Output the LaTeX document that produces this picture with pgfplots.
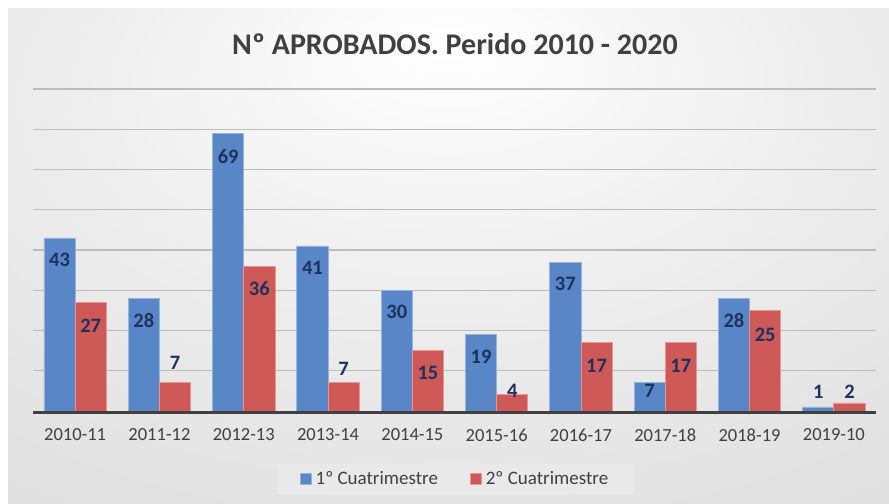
\documentclass[border=0pt]{standalone}
\usepackage{fontspec}
\setmainfont{Carlito}
\usepackage{pgfplots}
\usepackage{pgfplotstable}
\pgfplotsset{compat=1.18}

\definecolor{barblue}{RGB}{88,134,198}
\definecolor{barblueedge}{RGB}{150,180,222}
\definecolor{barred}{RGB}{207,89,87}
\definecolor{barrededge}{RGB}{230,150,148}
\definecolor{labnavy}{RGB}{28,50,96}
\definecolor{txtgray}{RGB}{64,64,64}
\definecolor{gridgray}{RGB}{188,188,188}
\definecolor{basegray}{RGB}{64,64,64}

\pgfdeclareradialshading{chartbg}{\pgfpoint{0bp}{22bp}}{%
  color(0bp)=(white); color(22bp)=(white!93!black);
  color(50bp)=(white!86!black); color(85bp)=(white!78!black)}

% x, 1er cuatrimestre (a), 2o cuatrimestre (b), label offsets in bp
\pgfplotstableread{
x a sa b sb
0 43 -22 27 -23
1 28 -22 7 20
2 69 -23 36 -22
3 41 -22 7 14
4 30 -22 15 -22
5 19 -22 4 4
6 37 -22 17 -23
7 7 -8 17 -23
8 28 -22 25 -24
9 1 15 2 11
}\aprobados

\begin{document}
\begin{tikzpicture}
\fill[white] (0,0) rectangle (889bp,504bp);
\shade[shading=chartbg] (8bp,0) rectangle (889bp,495bp);
\node[font=\fontsize{30bp}{34bp}\selectfont\bfseries, text=txtgray]
  at (455bp,460bp) {Nº APROBADOS. Perido 2010 - 2020};
\begin{axis}[
    at={(33bp,93bp)}, anchor=south west,
    scale only axis,
    width=843bp, height=322bp,
    xmin=-0.5, xmax=9.5,
    ymin=0, ymax=80,
    ybar=0pt,
    bar width=0.37,
    axis line style={draw=none},
    major tick length=0pt,
    ytick={10,20,...,80},
    yticklabels={},
    ymajorgrids=true,
    grid style={gridgray, line width=1.3bp},
    xtick={0,...,9},
    xticklabels={2010-11,2011-12,2012-13,2013-14,2014-15,2015-16,2016-17,2017-18,2018-19,2019-10},
    xticklabel style={font=\fontsize{18.5bp}{22bp}\selectfont, text=txtgray, yshift=-14bp},
    /pgf/number format/assume math mode=true,
    nodes near coords,
    every node near coord/.append style={anchor=center, yshift=\labsh bp,
      font=\fontsize{20.5bp}{24bp}\selectfont\bfseries, text=labnavy},
    clip=false,
    legend columns=2,
    legend cell align=left,
    legend image code/.code={\draw[#1] (0bp,-5.5bp) rectangle (11bp,5.5bp);},
    legend style={at={(rel axis cs:0.5018,-0.2112)}, anchor=center,
      draw=none, fill={rgb,255:red,233;green,233;blue,233},
      font=\fontsize{19bp}{23bp}\selectfont, text=txtgray,
      inner xsep=22bp, inner ysep=7bp,
      nodes={inner xsep=4bp},
      /tikz/every even column/.append style={column sep=28bp}},
]
\addplot[fill=barblue, draw=barblueedge, line width=0.8bp, bar shift=-0.185,
  visualization depends on={\thisrow{sa} \as \labsh}]
  table[x=x, y=a] {\aprobados};
\addplot[fill=barred, draw=barrededge, line width=0.8bp, bar shift=0.185,
  visualization depends on={\thisrow{sb} \as \labsh}]
  table[x=x, y=b] {\aprobados};
\legend{1º Cuatrimestre, 2º Cuatrimestre}
\draw[basegray, line width=3.5bp] ([yshift=-1.5bp]rel axis cs:0,0) -- ([yshift=-1.5bp]rel axis cs:1,0);
\end{axis}
\end{tikzpicture}
\end{document}
